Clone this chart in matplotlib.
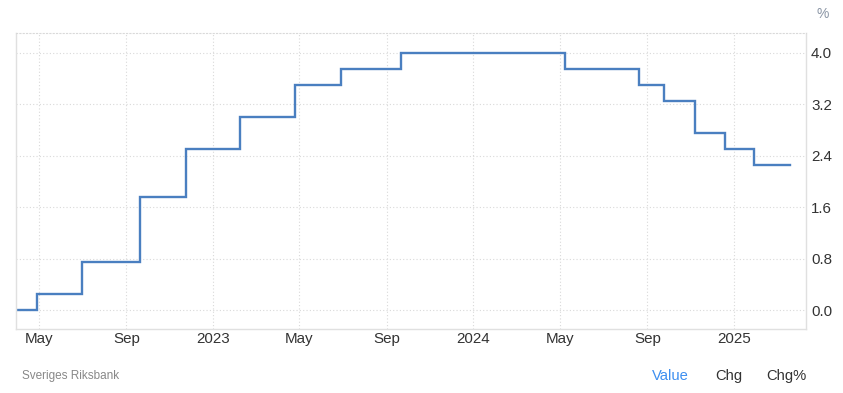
import matplotlib
matplotlib.use("Agg")
import matplotlib.pyplot as plt
import pandas as pd

dates = ['2022-03-31', '2022-04-28', '2022-06-30', '2022-09-20', '2022-11-24',
         '2023-02-08', '2023-04-26', '2023-06-29', '2023-09-21', '2024-05-08',
         '2024-08-20', '2024-09-25', '2024-11-07', '2024-12-19', '2025-01-29',
         '2025-03-20']
values = [0.0, 0.25, 0.75, 1.75, 2.5, 3.0, 3.5, 3.75, 4.0, 3.75, 3.5, 3.25,
          2.75, 2.5, 2.25, 2.25]
yticks = [0.0, 0.8, 1.6, 2.4, 3.2, 4.0]
xtick_dates = ['2022-05-01', '2022-09-01', '2023-01-01', '2023-05-01', '2023-09-01',
               '2024-01-01', '2024-05-01', '2024-09-01', '2025-01-01']
xtick_labels = ['May', 'Sep', '2023', 'May', 'Sep', '2024', 'May', 'Sep', '2025']

x = pd.to_datetime(dates)
xt = pd.to_datetime(xtick_dates)

plt.rcParams['font.family'] = ['Liberation Sans', 'DejaVu Sans']
fig = plt.figure(figsize=(8.43, 3.93), dpi=100)
ax = fig.add_axes([16/843, 1-329/393, (805.5-16)/843, (329-33)/393])

ax.plot(x, values, drawstyle='steps-post', color='#4a7fc0', lw=1.7, solid_joinstyle='miter')

ax.set_xlim(pd.Timestamp('2022-03-30'), pd.Timestamp('2025-04-11'))
ax.set_ylim(-0.295, 4.306)
ax.set_yticks(yticks)
ax.set_yticklabels([f'{v:.1f}' for v in yticks])
ax.set_xticks(xt)
ax.set_xticklabels(xtick_labels)
ax.yaxis.tick_right()
ax.tick_params(axis='both', length=0, labelsize=10.9, colors='#333333')
ax.tick_params(axis='y', pad=4)
ax.tick_params(axis='x', pad=2)
ax.grid(True, color='#d9d9d9', linestyle=(0, (1, 2)), lw=0.8)

for s in ['left', 'bottom', 'right']:
    ax.spines[s].set_color('#e0e0e0')
    ax.spines[s].set_linewidth(1)
ax.spines['top'].set_color('#d9d9d9')
ax.spines['top'].set_linestyle((0, (1, 2)))
ax.spines['top'].set_linewidth(0.8)

fig.text(823/843, 1-14/393, '%', ha='center', va='center', fontsize=10, color='#8a95a5')
fig.text(22/843, 1-376/393, 'Sveriges Riksbank', ha='left', va='center', fontsize=8.5, color='#888888')
fig.text(670/843, 1-376/393, 'Value', ha='center', va='center', fontsize=10.6, color='#3d8ff0')
fig.text(729/843, 1-376/393, 'Chg', ha='center', va='center', fontsize=10.6, color='#333333')
fig.text(786/843, 1-376/393, 'Chg%', ha='center', va='center', fontsize=10.6, color='#333333')

fig.savefig('out.png', dpi=100)
